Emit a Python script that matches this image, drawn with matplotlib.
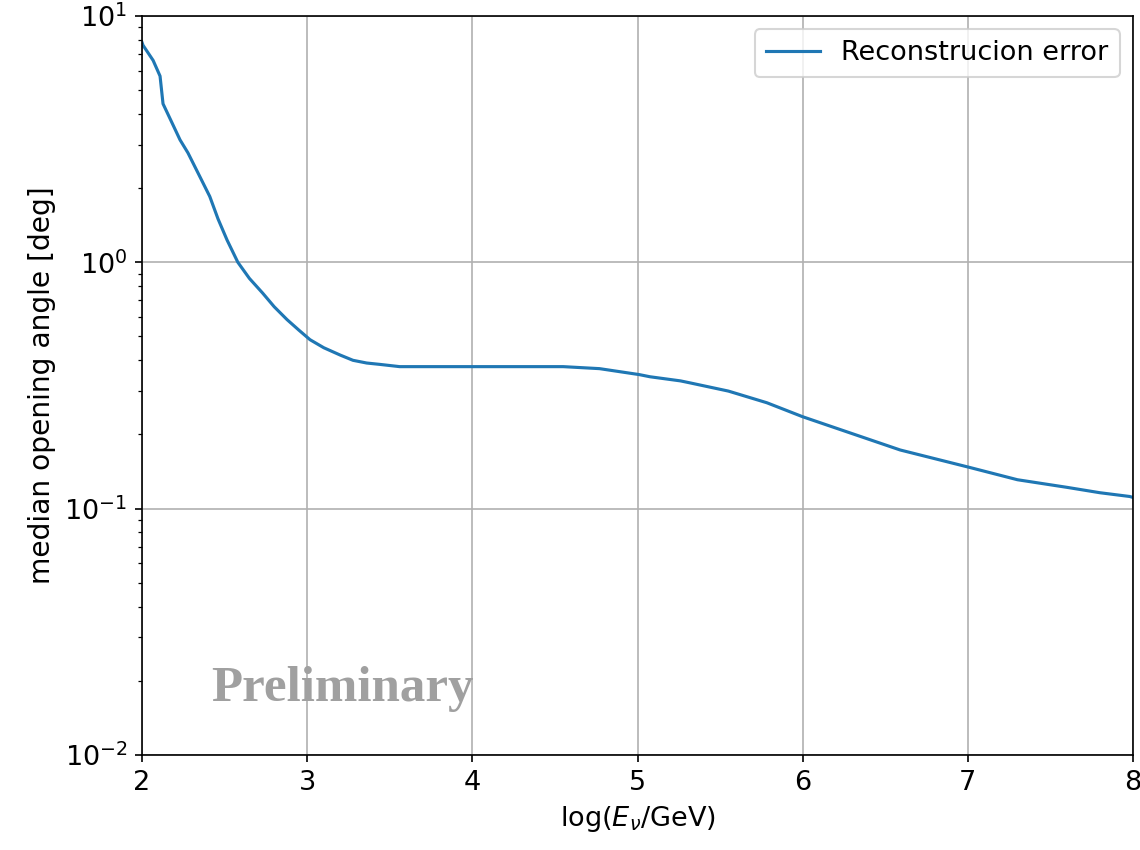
import matplotlib
matplotlib.use("Agg")
import matplotlib.pyplot as plt
import numpy as np

# log10 of neutrino energy in GeV
log_energy = [2.0, 2.006, 2.067, 2.109, 2.127, 2.18, 2.23, 2.278, 2.351, 2.41,
              2.46, 2.515, 2.58, 2.65, 2.73, 2.80, 2.878, 2.95, 3.017, 3.1,
              3.2, 3.277, 3.36, 3.44, 3.56, 4.0, 4.55, 4.77, 5.01, 5.075,
              5.26, 5.317, 5.55, 5.783, 6.0, 6.286, 6.59, 7.01, 7.30, 7.60,
              7.80, 7.98, 8.0]
# median opening angle between true and reconstructed direction [deg]
median_angle = [7.8, 7.6, 6.6, 5.7, 4.4, 3.7, 3.14, 2.78, 2.22, 1.85,
                1.5, 1.23, 1.0, 0.86, 0.75, 0.66, 0.585, 0.53, 0.485, 0.45,
                0.42, 0.40, 0.39, 0.385, 0.377, 0.377, 0.377, 0.37, 0.35, 0.343,
                0.33, 0.324, 0.30, 0.269, 0.236, 0.203, 0.173, 0.147, 0.131, 0.122,
                0.116, 0.112, 0.111]

plt.rcParams["font.size"] = 13
plt.rcParams["xtick.labelsize"] = 13
plt.rcParams["ytick.labelsize"] = 13

fig = plt.figure(figsize=(7.6, 5.667), dpi=150)
ax = fig.add_axes([0.1246, 0.1118, 0.8693, 0.8694])

ax.plot(log_energy, median_angle, color="#1f77b4", lw=1.5, label="Reconstrucion error")
ax.set_yscale("log")
ax.set_xlim(2, 8)
ax.set_ylim(1e-2, 1e1)
ax.grid(True, which="major", color="#b0b0b0", lw=0.8)
ax.set_xlabel(r"log($E_\nu$/GeV)", fontsize=13)
ax.set_ylabel("median opening angle [deg]", fontsize=13.5)
ax.legend(loc="upper right", fontsize=13)

ax.text(2.42, 10 ** -1.734, "Preliminary", fontsize=24.5, fontweight="bold",
        family="Liberation Serif", color="#a0a0a0", va="center", ha="left")

fig.savefig("out.png", dpi=150)
